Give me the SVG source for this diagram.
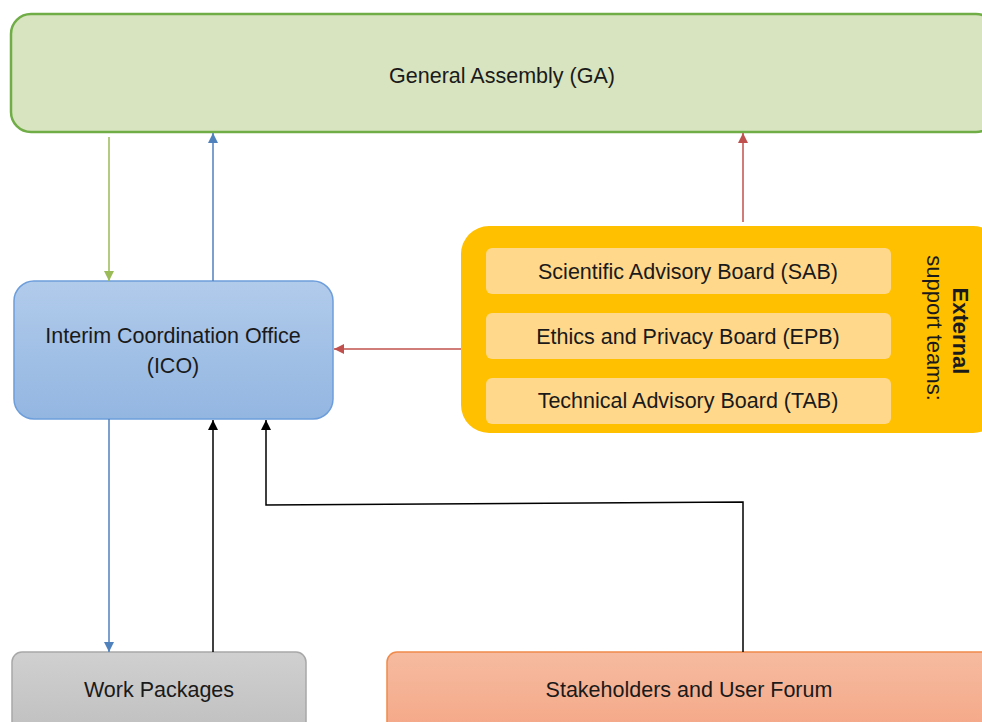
<svg xmlns="http://www.w3.org/2000/svg" width="982" height="722" viewBox="0 0 982 722">
<defs>
<linearGradient id="gBlue" x1="0" y1="0" x2="0" y2="1"><stop offset="0" stop-color="#B1CBEB"/><stop offset="1" stop-color="#93B6E1"/></linearGradient>
<linearGradient id="gGray" x1="0" y1="0" x2="0" y2="1"><stop offset="0" stop-color="#D0D0D0"/><stop offset="1" stop-color="#BEBEBE"/></linearGradient>
<linearGradient id="gOrange" x1="0" y1="0" x2="0" y2="1"><stop offset="0" stop-color="#F6BBA0"/><stop offset="1" stop-color="#F4A584"/></linearGradient>
<marker id="aGreen" viewBox="0 0 10 10" refX="10" refY="5" markerWidth="12" markerHeight="10" markerUnits="userSpaceOnUse" orient="auto"><path d="M0,0 L10,5 L0,10 z" fill="#9BBB59"/></marker>
<marker id="aBlue" viewBox="0 0 10 10" refX="10" refY="5" markerWidth="12" markerHeight="10" markerUnits="userSpaceOnUse" orient="auto"><path d="M0,0 L10,5 L0,10 z" fill="#4F81BD"/></marker>
<marker id="aRed" viewBox="0 0 10 10" refX="10" refY="5" markerWidth="12" markerHeight="10" markerUnits="userSpaceOnUse" orient="auto"><path d="M0,0 L10,5 L0,10 z" fill="#C0504D"/></marker>
<marker id="aBlack" viewBox="0 0 10 10" refX="10" refY="5" markerWidth="12" markerHeight="10" markerUnits="userSpaceOnUse" orient="auto"><path d="M0,0 L10,5 L0,10 z" fill="#000"/></marker>
</defs>
<style>
text{font-family:"Liberation Sans",Arial,sans-serif;font-size:21.5px;fill:#1a1a1a;text-anchor:middle}
.vt{font-size:22px}
.conn{fill:none;stroke-width:1.5}
.sub{fill:#FFD88C}
</style>
<rect width="982" height="722" fill="#fff"/>
<g id="ga">
<rect x="11" y="14" width="985" height="118" rx="20" fill="#D8E4BF" stroke="#70AD47" stroke-width="2.5"/>
<text x="502" y="83">General Assembly (GA)</text>
</g>
<g id="ico">
<rect x="14" y="281" width="319" height="138" rx="20" fill="url(#gBlue)" stroke="#6D9EDB" stroke-width="1.5"/>
<text x="173" y="343">Interim Coordination Office</text>
<text x="173" y="373">(ICO)</text>
</g>
<g id="external">
<rect x="461" y="226" width="540" height="207" rx="28" fill="#FFC000"/>
<g id="sab"><rect class="sub" x="486" y="248" width="405" height="46" rx="6"/><text x="688" y="279">Scientific Advisory Board (SAB)</text></g>
<g id="epb"><rect class="sub" x="486" y="313" width="405" height="46" rx="6"/><text x="688" y="344">Ethics and Privacy Board (EPB)</text></g>
<g id="tab"><rect class="sub" x="486" y="378" width="405" height="46" rx="6"/><text x="688" y="408">Technical Advisory Board (TAB)</text></g>
<text class="vt" transform="translate(953,331) rotate(90)" style="font-weight:bold">External</text>
<text class="vt" transform="translate(927,328) rotate(90)">support teams:</text>
</g>
<g id="wp">
<rect x="12" y="652" width="294" height="90" rx="10" fill="url(#gGray)" stroke="#A8A8A8" stroke-width="1.5"/>
<text x="159" y="697">Work Packages</text>
</g>
<g id="suf">
<rect x="387" y="652" width="610" height="90" rx="10" fill="url(#gOrange)" stroke="#F08A4B" stroke-width="1.5"/>
<text x="689" y="697">Stakeholders and User Forum</text>
</g>
<g id="connectors">
<line class="conn" x1="109" y1="137" x2="109" y2="281" stroke="#9BBB59" marker-end="url(#aGreen)"/>
<line class="conn" x1="213" y1="281" x2="213" y2="133" stroke="#4F81BD" marker-end="url(#aBlue)"/>
<line class="conn" x1="743" y1="222" x2="743" y2="133" stroke="#C0504D" marker-end="url(#aRed)"/>
<line class="conn" x1="461" y1="349" x2="334" y2="349" stroke="#C0504D" marker-end="url(#aRed)"/>
<line class="conn" x1="109" y1="419" x2="109" y2="652" stroke="#4F81BD" marker-end="url(#aBlue)"/>
<line class="conn" x1="213" y1="652" x2="213" y2="420" stroke="#000" marker-end="url(#aBlack)"/>
<polyline class="conn" points="743,652 743,502 266,505 266,420" stroke="#000" marker-end="url(#aBlack)"/>
</g>
</svg>
